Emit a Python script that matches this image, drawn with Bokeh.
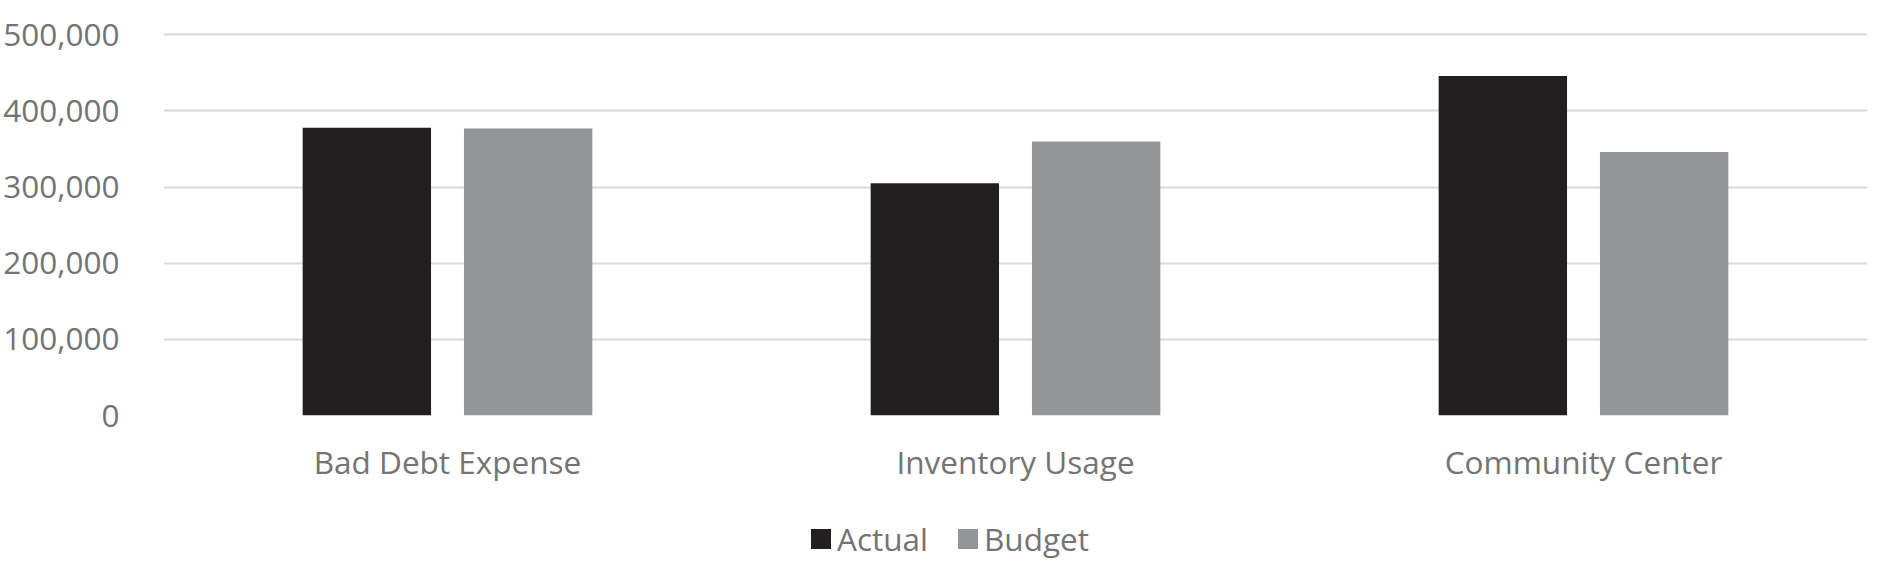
from bokeh.plotting import figure
from bokeh.layouts import column
from bokeh.models import (ColumnDataSource, FactorRange, Range1d, FixedTicker,
                          NumeralTickFormatter, Legend, LegendItem)
from bokeh.transform import dodge
from bokeh.embed import file_html
from bokeh.resources import INLINE

categories = ["Bad Debt Expense", "Inventory Usage", "Community Center"]
actual = [378000, 305000, 446000]
budget = [377000, 360000, 346000]
y_ticks = [0, 100000, 200000, 300000, 400000, 500000]
series_names = ["Actual", "Budget"]

FONT = "Open Sans"
TEXT_COLOR = "#747474"
ACTUAL_COLOR = "#231f20"
BUDGET_COLOR = "#939598"

source = ColumnDataSource(data=dict(cat=categories, actual=actual, budget=budget))
x_range = FactorRange(factors=categories)

# ---------- main chart ----------
p = figure(
    x_range=x_range,
    y_range=Range1d(0, 503000),
    width=1882, height=500,
    output_backend="svg", toolbar_location=None,
    min_border_left=162, min_border_right=15,
    min_border_top=32, min_border_bottom=85,
)
p.outline_line_color = None

p.vbar(x=dodge("cat", -0.142, range=x_range), top="actual", width=0.226,
       source=source, fill_color=ACTUAL_COLOR, line_color=None)
p.vbar(x=dodge("cat", 0.142, range=x_range), top="budget", width=0.226,
       source=source, fill_color=BUDGET_COLOR, line_color=None)

p.yaxis.ticker = FixedTicker(ticks=y_ticks)
p.yaxis.formatter = NumeralTickFormatter(format="0,0")
p.yaxis.axis_line_color = None
p.yaxis.major_tick_line_color = None
p.yaxis.minor_tick_line_color = None
p.yaxis.major_label_standoff = 38
p.yaxis.major_label_text_font = FONT
p.yaxis.major_label_text_font_size = "31.5px"
p.yaxis.major_label_text_color = TEXT_COLOR

p.xaxis.axis_line_color = None
p.xaxis.major_tick_line_color = None
p.xaxis.minor_tick_line_color = None
p.xaxis.major_label_standoff = 18
p.xaxis.major_label_text_font = FONT
p.xaxis.major_label_text_font_size = "31.5px"
p.xaxis.major_label_text_color = TEXT_COLOR

p.xgrid.grid_line_color = None
p.ygrid.ticker = FixedTicker(ticks=y_ticks)
p.ygrid.grid_line_color = "#d9d9d9"
p.ygrid.grid_line_width = 2

# ---------- legend strip ----------
leg = figure(
    x_range=x_range, y_range=Range1d(-2000000, -1000000),
    width=1882, height=79,
    output_backend="svg", toolbar_location=None,
    min_border_left=0, min_border_right=0, min_border_top=0, min_border_bottom=0,
)
leg.axis.visible = False
leg.grid.visible = False
leg.outline_line_color = None
# hidden series renderers that only supply the legend swatches
la = leg.vbar(x=dodge("cat", -0.142, range=x_range), top="actual", width=0.226,
              source=source, fill_color=ACTUAL_COLOR, line_color=None, visible=False)
lb = leg.vbar(x=dodge("cat", 0.142, range=x_range), top="budget", width=0.226,
              source=source, fill_color=BUDGET_COLOR, line_color=None, visible=False)

legend = Legend(
    items=[LegendItem(label=series_names[0], renderers=[la]),
           LegendItem(label=series_names[1], renderers=[lb])],
    orientation="horizontal",
    location=(645, 19),
    border_line_color=None,
    background_fill_alpha=0,
    inactive_fill_alpha=0,
    padding=0, margin=0,
    spacing=27,
    glyph_width=25, glyph_height=25,
    label_standoff=4,
    label_text_font=FONT,
    label_text_font_size="31.5px",
    label_text_color=TEXT_COLOR,
)
leg.add_layout(legend, "center")

layout = column(p, leg, spacing=0)
open("out.html", "w").write(file_html(layout, INLINE))
